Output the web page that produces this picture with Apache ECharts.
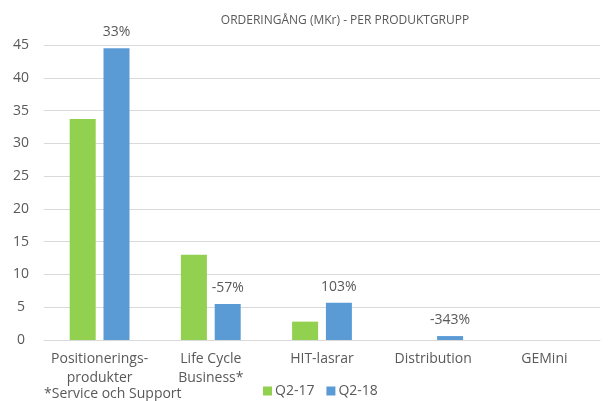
<!DOCTYPE html>
<html>
<head>
<meta charset="utf-8">
<script src="https://cdn.jsdelivr.net/npm/echarts@6/dist/echarts.min.js"></script>
<style>
  html, body { margin: 0; padding: 0; background: #fff; }
  #chart { width: 608px; height: 401px; }
</style>
</head>
<body>
<div id="chart"></div>
<script>
const categories = ['Positionerings-\nprodukter', 'Life Cycle\nBusiness*', 'HIT-lasrar', 'Distribution', 'GEMini']
const q217 = [33.7, 13.0, 2.8, 0, 0]
const q218 = [44.5, 5.5, 5.7, 0.6, 0]
const changeLabels = ['33%', '-57%', '103%', '-343%', '']
const yTicks = [0, 45, 5]

const textColor = '#595959'
const font = 'Open Sans'

const chart = echarts.init(document.getElementById('chart'))

chart.setOption({
  animation: false,
  title: {
    text: 'ORDERINGÅNG (MKr) - PER PRODUKTGRUPP',
    left: 340,
    top: 10,
    textAlign: 'center',
    textStyle: { color: textColor, fontSize: 12, fontWeight: 'normal', fontFamily: font }
  },
  grid: { left: 44, right: 8, top: 45, bottom: 61 },
  legend: {
    left: 258,
    top: 379,
    itemWidth: 9,
    itemHeight: 9,
    itemGap: 12,
    icon: 'rect',
    textStyle: { color: textColor, fontSize: 14, fontFamily: font, padding: [0, 0, 0, -2] },
    data: ['Q2-17', 'Q2-18']
  },
  graphic: [{
    type: 'text',
    left: 44,
    top: 387,
    style: { text: '*Service och Support', fill: textColor, font: '14px "Open Sans"' }
  }],
  xAxis: {
    type: 'category',
    data: categories,
    axisLine: { lineStyle: { color: '#d9d9d9' } },
    axisTick: { show: false },
    axisLabel: { color: textColor, fontSize: 14, fontFamily: font, margin: 10, lineHeight: 19, interval: 0 }
  },
  yAxis: {
    type: 'value',
    min: yTicks[0],
    max: yTicks[1],
    interval: yTicks[2],
    axisLine: { show: false },
    axisTick: { show: false },
    axisLabel: { color: textColor, fontSize: 14, fontFamily: font, margin: 23, align: 'center' },
    splitLine: { lineStyle: { color: '#d9d9d9' } }
  },
  series: [
    {
      name: 'Q2-17',
      type: 'bar',
      data: q217,
      barWidth: 26,
      barGap: '30%',
      itemStyle: { color: '#92D050' }
    },
    {
      name: 'Q2-18',
      type: 'bar',
      data: q218,
      barWidth: 26,
      barGap: '30%',
      itemStyle: { color: '#5B9BD5' },
      label: {
        show: true,
        position: 'top',
        distance: 9,
        color: textColor,
        fontSize: 14,
        fontFamily: font,
        formatter: (p) => changeLabels[p.dataIndex]
      }
    }
  ]
})
</script>
</body>
</html>
